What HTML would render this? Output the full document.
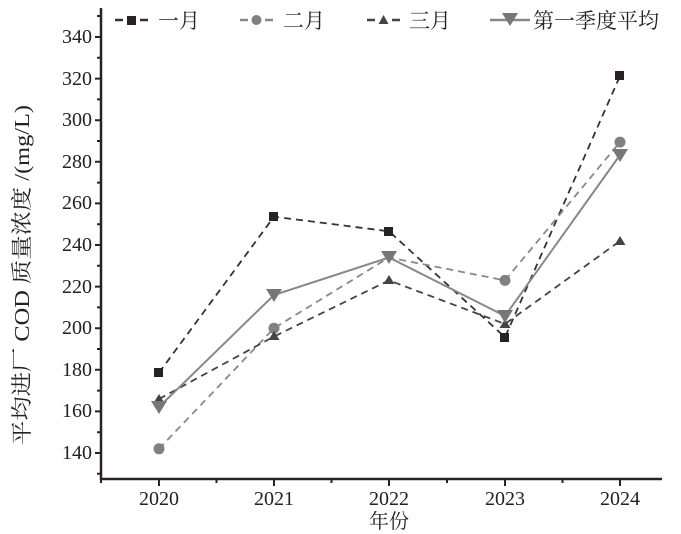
<!DOCTYPE html><html><head><meta charset="utf-8"><style>body{margin:0;background:#fff}svg{display:block}text{font-family:"Liberation Serif","Noto Serif CJK SC",serif;fill:#222}</style></head><body>
<svg width="681" height="534" viewBox="0 0 681 534">
<g stroke="#2a2222" stroke-width="2.5" fill="none">
<path d="M101 8V479H662"/>
</g>
<g stroke="#2a2222" stroke-width="2">
<path d="M95 37H101M95 78.6H101M95 120.2H101M95 161.8H101M95 203.4H101M95 245H101M95 286.6H101M95 328.2H101M95 369.8H101M95 411.4H101M95 453H101"/>
<path d="M97 16H101M97 57.8H101M97 99.4H101M97 141H101M97 182.6H101M97 224.2H101M97 265.8H101M97 307.4H101M97 349H101M97 390.6H101M97 432.2H101M97 473.8H101"/>
<path d="M159 479V486M274 479V486M389 479V486M505 479V486M620 479V486M101 479V483M216.5 479V483M331.5 479V483M447 479V483M562.5 479V483"/>
</g>
<g font-size="20" text-anchor="end">
<text x="92" y="43">340</text><text x="92" y="85">320</text><text x="92" y="126">300</text><text x="92" y="168">280</text><text x="92" y="209">260</text><text x="92" y="251">240</text><text x="92" y="293">220</text><text x="92" y="334">200</text><text x="92" y="376">180</text><text x="92" y="417">160</text><text x="92" y="459">140</text>
</g>
<g font-size="20" text-anchor="middle">
<text x="159" y="505">2020</text><text x="274" y="505">2021</text><text x="389" y="505">2022</text><text x="505" y="505">2023</text><text x="620" y="505">2024</text>
<text x="389" y="528">年份</text>
</g>
<text font-size="21" x="0" y="0" textLength="340" lengthAdjust="spacingAndGlyphs" transform="translate(29 445) rotate(-90)">平均进厂 COD 质量浓度 /(mg/L)</text>
<g fill="none" stroke-width="1.8" stroke-dasharray="7,5">
<polyline stroke="#333" points="159,372.7 274,216.7 389,231.3 505,337.2 620,76"/>
<polyline stroke="#888" points="159,448.8 274,328.2 389,257.5 505,280.4 620,142.1"/>
<polyline stroke="#444" points="159,399 274,336.5 389,280.4 505,324 620,241"/>
</g>
<polyline fill="none" stroke="#888" stroke-width="2" points="159,407 274,295 389,257.5 505,316 620,155"/>
<g fill="#2a2222">
<rect x="154" y="368" width="9" height="9"/><rect x="269" y="212" width="9" height="9"/><rect x="384" y="227" width="9" height="9"/><rect x="500" y="333" width="9" height="9"/><rect x="615" y="71" width="9" height="9"/>
</g>
<g fill="#808080">
<circle cx="159" cy="448.8" r="5.5"/><circle cx="274" cy="328.2" r="5.5"/><circle cx="505" cy="280.4" r="5.5"/><circle cx="620" cy="142.1" r="5.5"/>
</g>
<g fill="#444">
<path d="M159 394l5.5 9h-11z"/><path d="M274 331l5.5 9h-11z"/><path d="M389 275l5.5 9h-11z"/><path d="M505 319l5.5 9h-11z"/><path d="M620 236l5.5 9h-11z"/>
</g>
<g fill="#777">
<path d="M151 401h16l-8 13z"/><path d="M266 289h16l-8 13z"/><path d="M381 251h16l-8 13z"/><path d="M497 310h16l-8 13z"/><path d="M612 149h16l-8 13z"/>
</g>
<g stroke-width="2.5">
<path d="M115 20h8M140 20h8" stroke="#333"/>
<path d="M240 20h8M265 20h8" stroke="#888"/>
<path d="M367 20h8M392 20h8" stroke="#444"/>
<path d="M490 20h40" stroke="#888"/>
</g>
<rect x="127" y="16" width="9" height="9" fill="#2a2222"/>
<circle cx="256.5" cy="20" r="5" fill="#808080"/>
<path d="M383.5 15l5 9h-10z" fill="#444"/>
<path d="M502 13h16l-8 13z" fill="#777"/>
<g font-size="21">
<text x="158" y="28">一月</text><text x="283" y="28">二月</text><text x="409" y="28">三月</text><text x="533" y="28">第一季度平均</text>
</g>
</svg></body></html>
